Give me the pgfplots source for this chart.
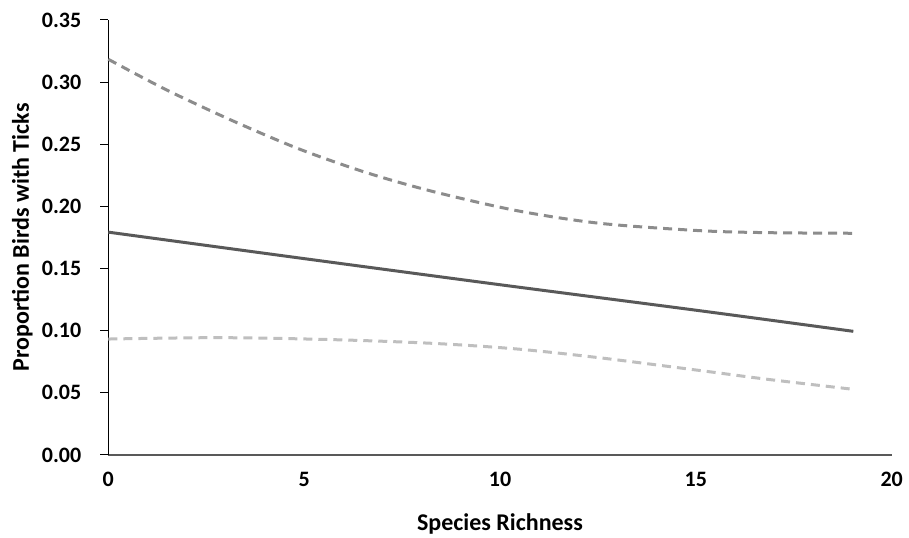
\documentclass[border=0pt]{standalone}
\usepackage{pgfplots}
\pgfplotsset{compat=1.18}
\usepackage{fontspec}
\setmainfont{Carlito}
\definecolor{midline}{RGB}{89,89,89}
\definecolor{upline}{RGB}{140,140,140}
\definecolor{lowline}{RGB}{191,191,191}
\begin{document}
\begin{tikzpicture}
\begin{axis}[
  scale only axis,
  width=391.7pt, height=217.5pt,
  xmin=0, xmax=20, ymin=0, ymax=0.35,
  axis x line*=bottom, axis y line*=left,
  x axis line style={draw=midline, line width=1pt},
  y axis line style={draw=black, line width=0.5pt},
  xtick={0,5,...,20}, ytick={0,0.05,...,0.35},
  major tick length=4pt,
  xtick style={draw=none},
  ytick style={draw=black, line width=0.5pt},
  tick align=outside,
  yticklabel style={/pgf/number format/fixed, /pgf/number format/fixed zerofill, /pgf/number format/precision=2},
  /pgf/number format/assume math mode=true,
  ticklabel style={font=\fontsize{11}{13}\selectfont\bfseries},
  xticklabel style={yshift=-1pt},
  yticklabel style={xshift=-6pt},
  xlabel={Species Richness},
  ylabel={Proportion Birds with Ticks},
  label style={font=\fontsize{12}{14}\selectfont\bfseries},
  xlabel style={yshift=-6.5pt},
  ylabel style={yshift=-2.2pt},
  clip=false,
]
\addplot[draw=upline, line width=1.5pt, dash pattern=on 4.5pt off 3pt, smooth] coordinates {
(0,0.3184) (1.49,0.2937) (3.19,0.2687) (4.89,0.246) (6.6,0.2271) (8.3,0.2119) (10.43,0.1966) (12.55,0.1864) (15.1,0.1805) (16.8,0.1789) (19,0.1784)};
\addplot[draw=midline, line width=1.5pt, smooth] coordinates {
(0,0.1793) (5,0.1580) (10,0.1370) (15,0.1165) (19.02,0.0995)};
\addplot[draw=lowline, line width=1.5pt, dash pattern=on 4.5pt off 3pt, smooth] coordinates {
(0,0.0933) (2.85,0.0944) (5.74,0.0928) (8.3,0.0898) (10.43,0.0853) (12.55,0.0782) (15.1,0.0680) (16.8,0.0610) (19,0.0529)};
\end{axis}
\pgfresetboundingbox
\path ([shift={(-54.15pt,-41.5pt)}]current axis.south west) rectangle ([shift={(8.65pt,10pt)}]current axis.north east);
\end{tikzpicture}
\end{document}
